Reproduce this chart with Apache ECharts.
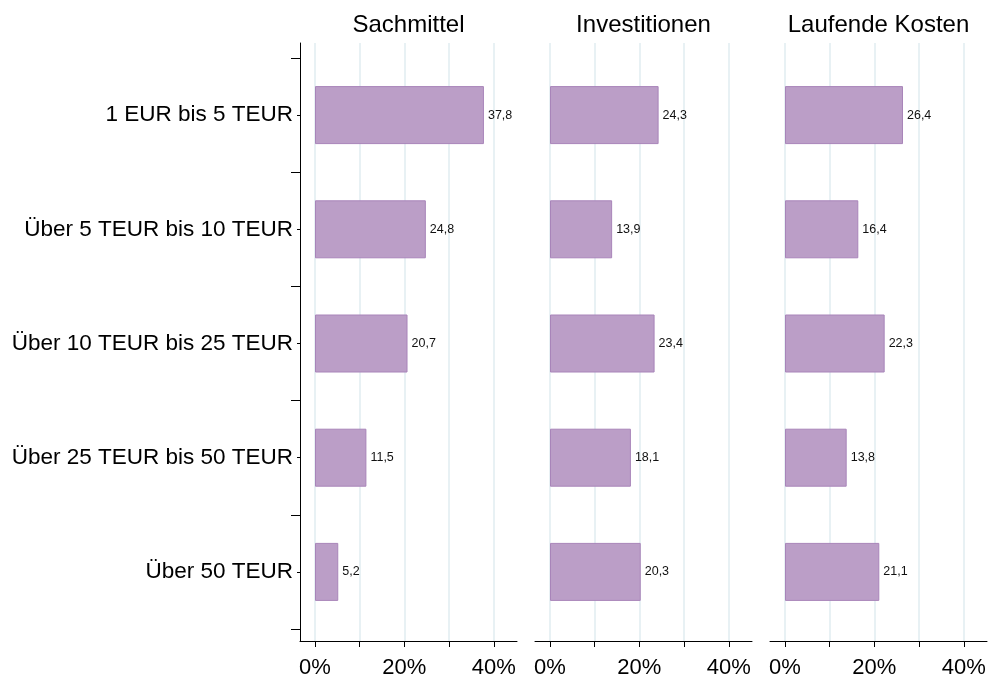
<!DOCTYPE html>
<html>
<head>
<meta charset="utf-8">
<title>Ausgaben nach Größenklasse</title>
<script src="https://cdn.jsdelivr.net/npm/echarts@6/dist/echarts.min.js"></script>
<style>
  html, body { margin: 0; padding: 0; background: #fff; }
  #chart { width: 989px; height: 679px; }
</style>
</head>
<body>
<div id="chart"></div>
<script>
var categories = ['1 EUR bis 5 TEUR', 'Über 5 TEUR bis 10 TEUR', 'Über 10 TEUR bis 25 TEUR', 'Über 25 TEUR bis 50 TEUR', 'Über 50 TEUR'];
var panelTitles = ['Sachmittel', 'Investitionen', 'Laufende Kosten'];
var sachmittel = [37.8, 24.8, 20.7, 11.5, 5.2];
var investitionen = [24.3, 13.9, 23.4, 18.1, 20.3];
var laufendeKosten = [26.4, 16.4, 22.3, 13.8, 21.1];
var tickValues = [0, 10, 20, 30, 40];
var tickLabels = [0, 20, 40];

var panelData = [sachmittel, investitionen, laufendeKosten];
var panelLeft = [300, 535, 770];
var panelWidth = 217;
var font = 'Liberation Sans, Arial, Helvetica, sans-serif';

var grid = [], xAxis = [], yAxis = [], series = [], graphic = [];

for (var i = 0; i < 3; i++) {
    // frame grid: axis lines, ticks, gridlines
    grid.push({ left: panelLeft[i], width: panelWidth, top: 43, height: 600 });
    // data grid: category band
    grid.push({ left: panelLeft[i], width: panelWidth, top: 58, height: 571 });

    xAxis.push({
        type: 'value', gridIndex: i * 2, min: -3.36, max: 45.2,
        axisLine: { show: true, onZero: false, lineStyle: { color: '#000', width: 1 } },
        axisTick: { show: true, length: 6, customValues: tickValues, lineStyle: { color: '#000' } },
        axisLabel: {
            customValues: tickLabels, formatter: '{value}%', margin: 16,
            color: '#000', fontSize: 22, fontFamily: font
        },
        splitLine: { show: true, lineStyle: { color: '#e1ecf0', width: 1.5 } }
    });
    xAxis.push({ type: 'value', gridIndex: i * 2 + 1, min: -3.36, max: 45.2, show: false });

    yAxis.push({
        type: 'value', gridIndex: i * 2, min: 0, max: 1,
        axisLine: { show: i === 0, onZero: false, lineStyle: { color: '#000', width: 1 } },
        axisTick: { show: false }, axisLabel: { show: false }, splitLine: { show: false }
    });
    yAxis.push({
        type: 'category', gridIndex: i * 2 + 1, inverse: true, data: categories,
        position: 'left',
        axisLine: { show: false, onZero: false },
        axisTick: { show: i === 0, length: 9, lineStyle: { color: '#000' } },
        axisLabel: { show: i === 0, margin: 7, color: '#000', fontSize: 22.5, fontFamily: font },
        splitLine: { show: false }
    });

    series.push({
        type: 'bar',
        xAxisIndex: i * 2 + 1,
        yAxisIndex: i * 2 + 1,
        data: panelData[i],
        barWidth: 58,
        itemStyle: { color: '#bb9ec7', borderColor: '#a884b9', borderWidth: 1 },
        label: {
            show: true, position: 'right', distance: 4,
            color: '#111', fontSize: 12.5, fontFamily: font,
            formatter: function (p) { return String(p.value).replace('.', ','); }
        },
        silent: true
    });

    graphic.push({
        type: 'text',
        x: panelLeft[i] + panelWidth / 2,
        y: 25,
        style: {
            text: panelTitles[i], fill: '#000', font: '24px ' + font,
            textAlign: 'center', textVerticalAlign: 'middle', align: 'center', verticalAlign: 'middle'
        }
    });
}

// small ticks at the category centres of the first panel
yAxis.push({
    type: 'category', gridIndex: 1, inverse: true, data: categories, position: 'left',
    axisLine: { show: false, onZero: false },
    axisTick: { show: true, alignWithLabel: true, length: 3, lineStyle: { color: '#000' } },
    axisLabel: { show: false }, splitLine: { show: false }
});

var chart = echarts.init(document.getElementById('chart'));
chart.setOption({
    animation: false,
    backgroundColor: '#fff',
    grid: grid,
    xAxis: xAxis,
    yAxis: yAxis,
    series: series,
    graphic: graphic
});
</script>
</body>
</html>
